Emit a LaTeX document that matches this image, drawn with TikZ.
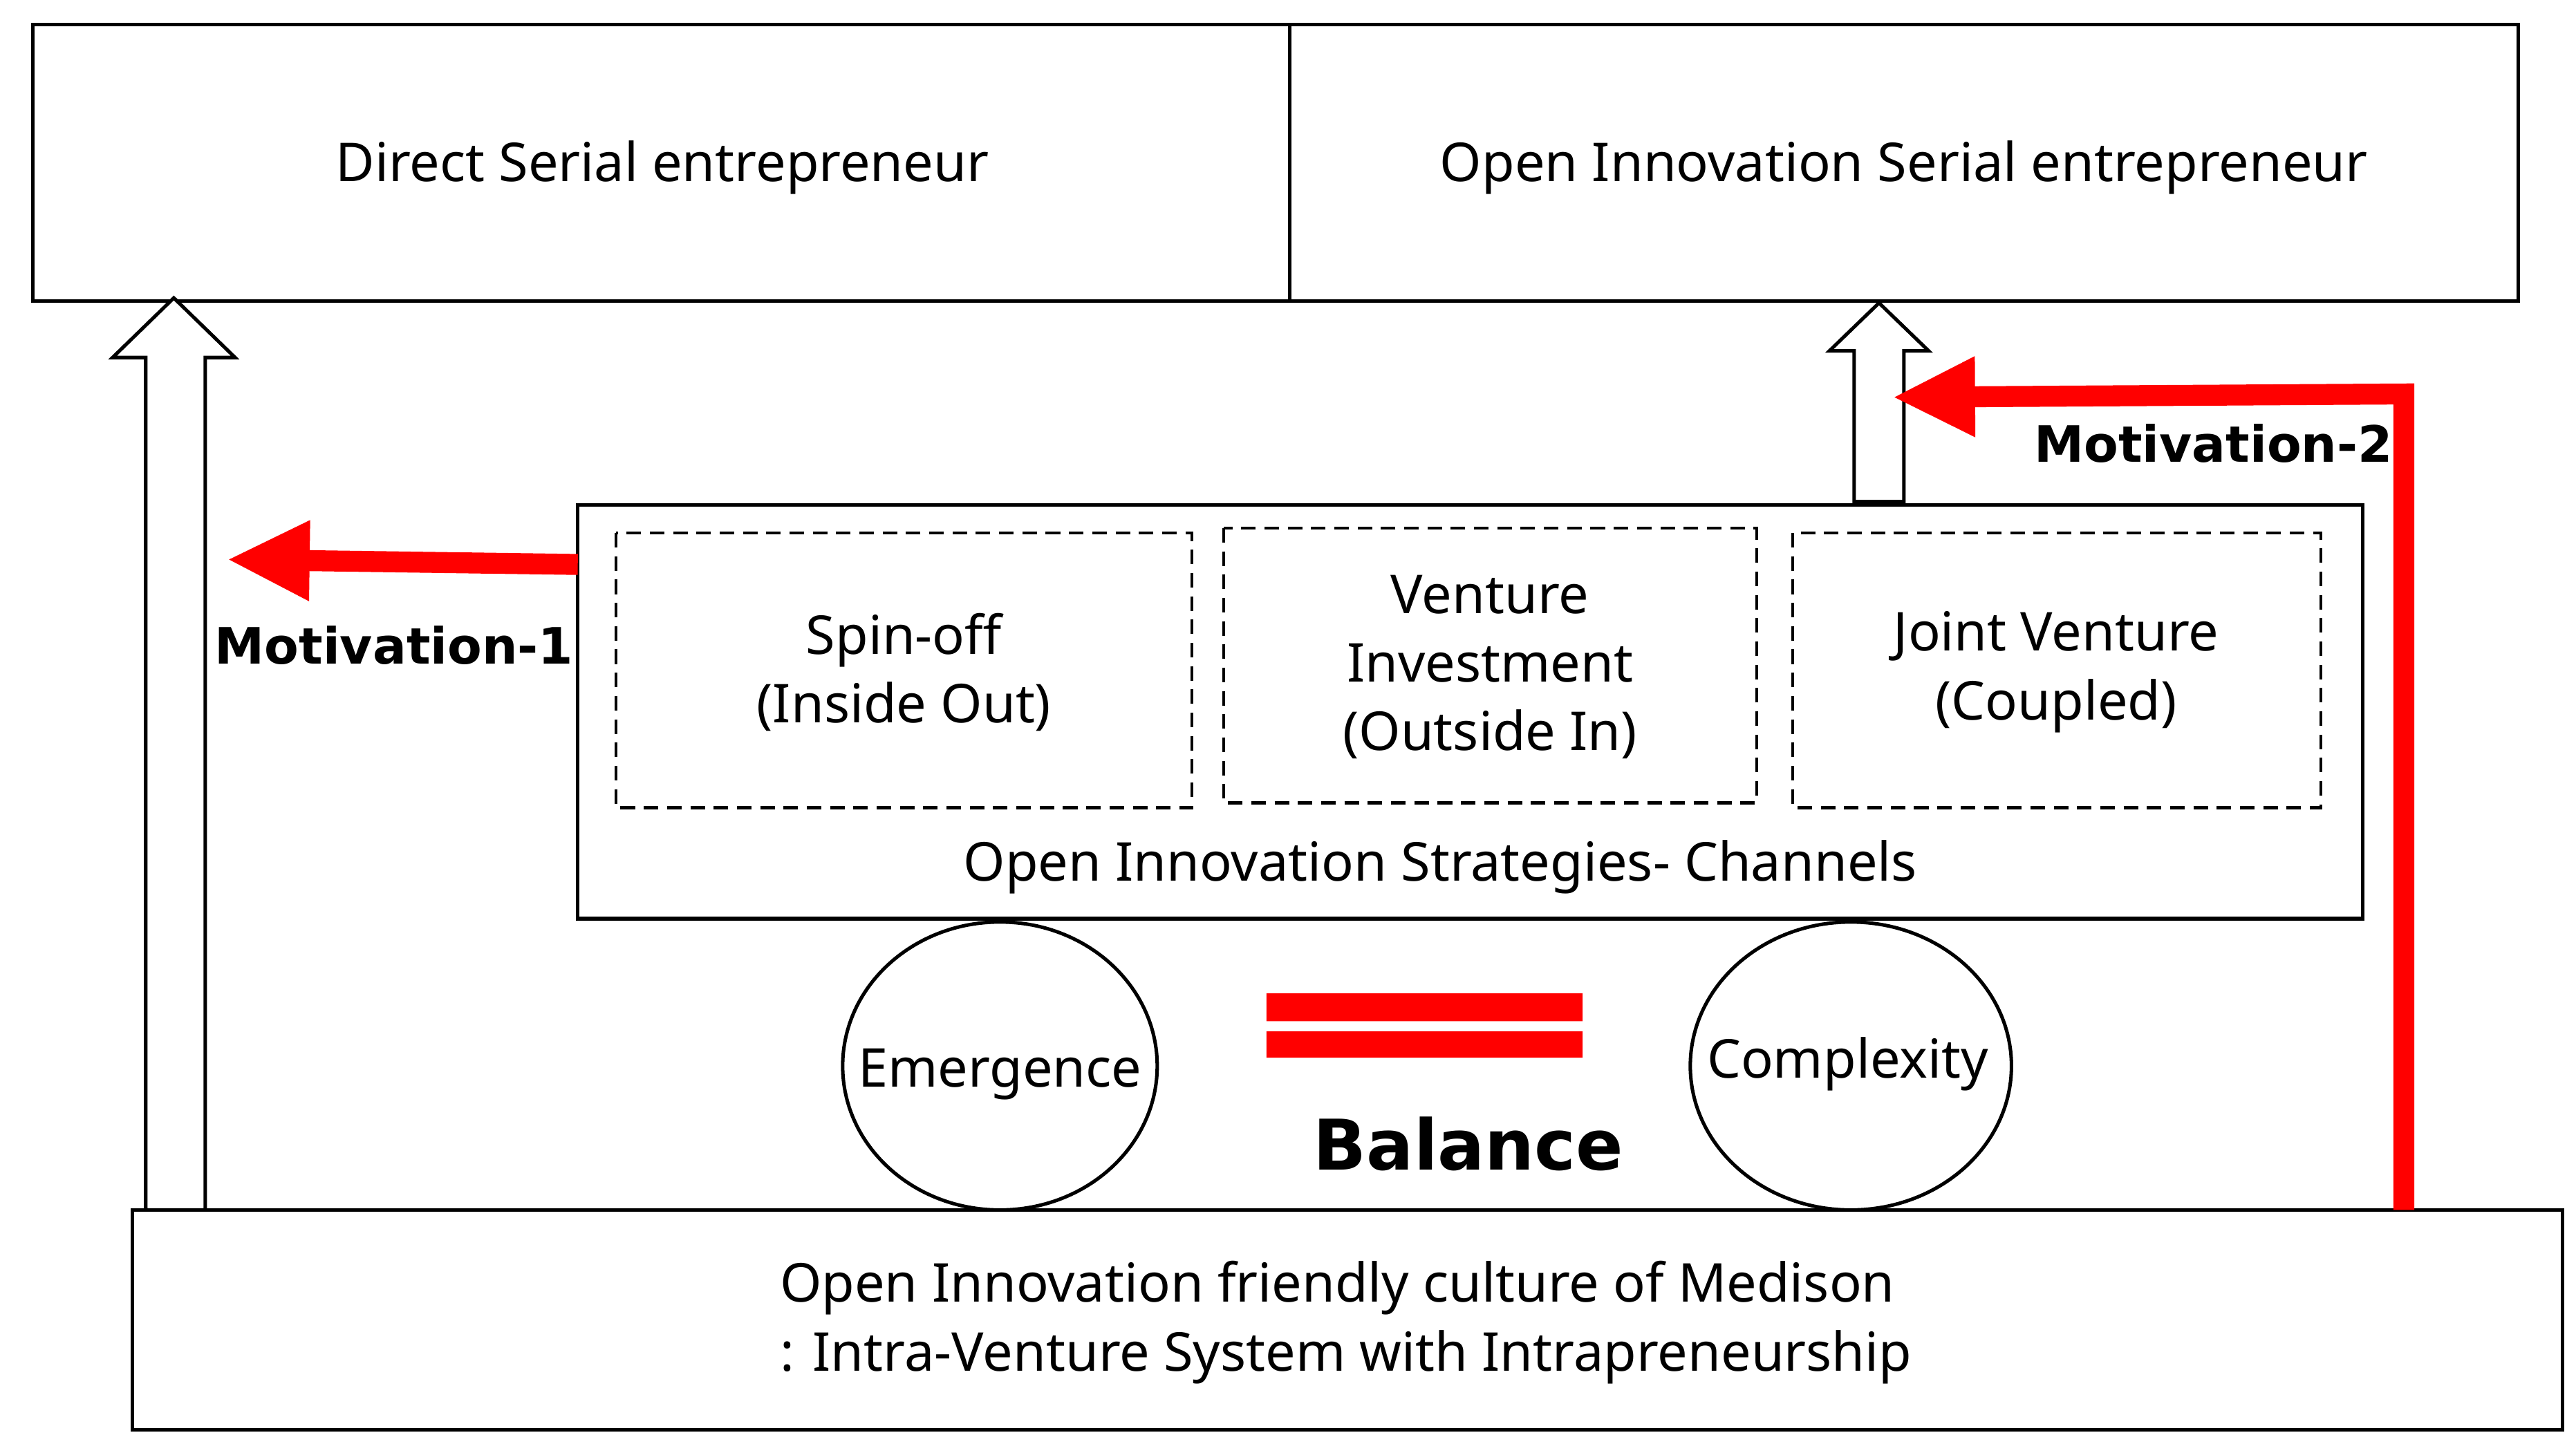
\documentclass[tikz,border=0pt]{standalone}
\usepackage{fontspec}
\setmainfont{Noto Sans}
\newfontfamily\motfont{DejaVu Sans}
\usetikzlibrary{arrows.meta,shapes.geometric}
\begin{document}
\begin{tikzpicture}[x=0.01cm,y=-0.01cm,
		chan/.style={draw=black,dash pattern=on 2.5pt off 1.5pt,line width=0.5pt},
		hollow/.style={draw=black,fill=white,line width=0.6pt},
		motiv/.style={draw=red,line width=3.6pt,-{Triangle[length=0.5cm,width=0.45cm]}},
		lbl/.style={font=\fontsize{9.2}{11.8}\selectfont},
		bold/.style={font=\motfont\fontsize{8.6}{12}\selectfont\bfseries}
	]
	\useasboundingbox (0,0) rectangle (1556,872);
	% top boxes
	\draw[line width=0.6pt] (20,15) rectangle (779,182) (779,15) rectangle (1521,182);
	\node[lbl] (dse) at (400,101) {Direct Serial entrepreneur};
	\node[lbl] (oise) at (1150,101) {Open Innovation Serial entrepreneur};
	% hollow arrows
	\draw[hollow] (88,731) -- (88,216) -- (68,216) -- (105,180) -- (142,216) -- (124,216) -- (124,731) -- cycle;
	\draw[hollow] (1120,303) -- (1120,212) -- (1105,212) -- (1135,183) -- (1165,212) -- (1150,212) -- (1150,303) -- cycle;
	% strategies
	\draw[line width=0.6pt,fill=white] (349,305) rectangle (1427,555);
	\draw[chan] (372,322) rectangle (720,488);
	\draw[chan] (739,319) rectangle (1061,485);
	\draw[chan] (1083,322) rectangle (1402,488);
	\node[lbl,align=center] (spin) at (546,406) {Spin-off\\(Inside Out)};
	\node[lbl,align=center] (vent) at (900,403) {Venture\\Investment\\(Outside In)};
	\node[lbl,align=center] (joint) at (1242,406) {Joint Venture\\(Coupled)};
	\node[lbl] (chans) at (870,524) {Open Innovation Strategies- Channels};
	% wheels
	\draw[line width=0.6pt] (604,644) ellipse [x radius=95,y radius=87];
	\draw[line width=0.6pt] (1118,644) ellipse [x radius=97,y radius=87];
	\node[lbl] (emer) at (604,649) {Emergence};
	\node[lbl] (comp) at (1116,643) {Complexity};
	\fill[red] (765,600) rectangle (956,617) (765,623) rectangle (956,639);
	\node[font=\motfont\fontsize{12}{16}\selectfont\bfseries] (bal) at (887,691) {Balance};
	% base
	\draw[line width=0.6pt,fill=white] (80,731) rectangle (1548,864);
	\node[lbl,align=left] (cult) at (813,799) {Open Innovation friendly culture of Medison\\: Intra-Venture System with Intrapreneurship};
	% motivations
	\coordinate (m1s) at (349,341);
	\coordinate (m1e) at (137,338);
	\draw[motiv] (m1s) -- (m1e);
	\node[bold] (mot1) at (238,390) {Motivation-1};
	\coordinate (m2s) at (1452,731);
	\coordinate (m2c) at (1452,238);
	\coordinate (m2e) at (1143,240);
	\draw[motiv] (m2s) -- (m2c) -- (m2e);
	\node[bold] (mot2) at (1337,268) {Motivation-2};
\end{tikzpicture}
\end{document}
